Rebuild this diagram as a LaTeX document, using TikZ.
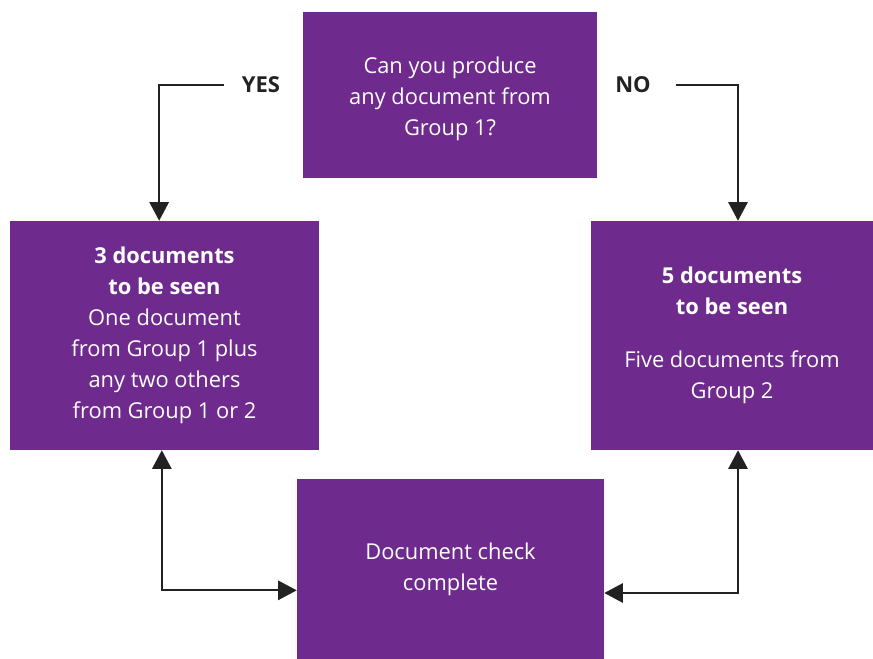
\documentclass[tikz,border=0pt]{standalone}
\usepackage{fontspec}
\setmainfont{Open Sans}
\usepackage{xcolor}
\usetikzlibrary{arrows.meta}
\definecolor{boxpurple}{HTML}{6E2A8C}
\definecolor{arrowgrey}{HTML}{222222}

\tikzset{
  purplebox/.style={fill=boxpurple, text=white, align=center, inner sep=0pt,
    font=\fontsize{16.4}{23.3}\selectfont},
  answer/.style={font=\fontsize{16.5}{20}\selectfont\bfseries, text=arrowgrey, inner xsep=13.5pt},
  conn/.style={line width=1.5pt, draw=arrowgrey,
    -{Triangle[width=14.5pt,length=14pt]}},
  twoway/.style={conn, {Triangle[width=14.5pt,length=14pt]}-{Triangle[width=14.5pt,length=14pt]}}
}

\begin{document}
\begin{tikzpicture}[x=0.75pt,y=-0.75pt]
\useasboundingbox (0,0) rectangle (873,659);
% boxes
\node [purplebox, minimum width=294*0.75pt, minimum height=166*0.75pt] (group) at (450,95)
  {\rule{0pt}{18pt}Can you produce\\any document from\\Group 1?};
\node [purplebox, minimum width=309*0.75pt, minimum height=229*0.75pt] (three) at (164.5,335.5)
  {\textbf{3 documents}\\\textbf{to be seen}\\One document\\from Group 1 plus\\any two others\\from Group 1 or 2};
\node [purplebox, minimum width=282*0.75pt, minimum height=229*0.75pt] (five) at (732,335.5)
  {\textbf{5 documents}\\\textbf{to be seen}\\[16.5pt]Five documents from\\Group 2};
\node [purplebox, minimum width=307*0.75pt, minimum height=180*0.75pt] (check) at (450.5,569)
  {Document check\\complete};
% answers
\node [answer] (yes) at (261,85) {YES};
\node [answer, inner xsep=19pt] (no) at (633,85) {NO};
% connectors
\draw [conn] (yes.west) -| ([xshift=-4pt]three.north);
\draw [conn] (no.east) -| ([xshift=4.5pt]five.north);
\draw [twoway] ([xshift=-2pt]three.south) |- ([yshift=-16pt]check.west);
\draw [twoway] ([xshift=4.5pt]five.south) |- ([yshift=-18pt]check.east);
\end{tikzpicture}
\end{document}
